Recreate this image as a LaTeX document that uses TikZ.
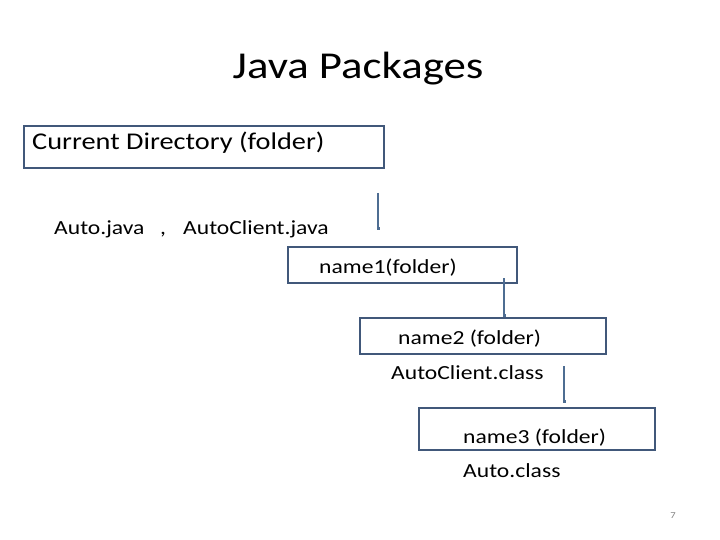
\documentclass[tikz,border=0pt]{standalone}
\usepackage{fontspec}
\setmainfont[FakeStretch=1.18]{Carlito}
\usetikzlibrary{arrows.meta}
\definecolor{boxc}{HTML}{41587A}
\definecolor{arrc}{HTML}{4E6D92}
\begin{document}
\begin{tikzpicture}[x=1pt,y=-1pt,
  frame/.style={draw=boxc,line width=2.6pt},
  txt/.style={anchor=base west,inner sep=0pt,font=\fontsize{20}{24}\selectfont},
  conn/.style={draw=arrc,line width=1.3pt,-{Square[length=3pt,width=3pt]}}]
\useasboundingbox (0,0) rectangle (720,540);
\node[anchor=base,inner sep=0pt,font=\fontsize{38}{46}\selectfont] (title) at (358,79) {Java Packages};
% boxes
\node[frame,minimum width=360pt,minimum height=42pt,inner sep=0pt] (b1) at (204,147) {};
\node[txt,font=\fontsize{24}{28}\selectfont] (t1) at (32,150) {Current Directory (folder)};
\node[txt] (t2a) at (54,235) {Auto.java};
\node[txt] (t2b) at (160,235) {,};
\node[txt] (t2c) at (183,235) {AutoClient.java};
\node[frame,minimum width=229pt,minimum height=36pt,inner sep=0pt] (b2) at (402.5,265) {};
\node[txt] (t3) at (319,273) {name1(folder)};
\node[frame,minimum width=246pt,minimum height=36pt,inner sep=0pt] (b3) at (483,336) {};
\node[txt] (t4) at (398,344) {name2 (folder)};
\node[txt] (t5) at (391,379) {AutoClient.class};
\node[frame,minimum width=236pt,minimum height=42pt,inner sep=0pt] (b4) at (537,429) {};
\node[txt] (t6) at (463,443) {name3 (folder)};
\node[txt] (t7) at (463,477) {Auto.class};
\node[anchor=base,inner sep=0pt,font=\fontsize{9}{10}\selectfont,text=gray] (pg) at (673,518) {7};
% connectors
\coordinate (a1s) at (378,193);
\coordinate (a1e) at (378,230);
\coordinate (a2s) at (504,278);
\coordinate (a3s) at (564,366);
\coordinate (a3e) at (564,403);
\draw[conn] (a1s) -- (a1e);
\draw[conn] (a2s) -- (a2s |- b3.north);
\draw[conn] (a3s) -- (a3e);
\end{tikzpicture}
\end{document}
